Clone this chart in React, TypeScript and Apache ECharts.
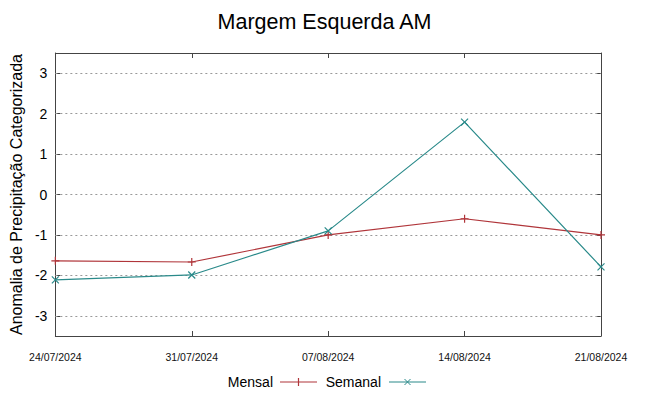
import React, { useEffect, useRef } from "react";
import * as echarts from "echarts";

const categories = ["24/07/2024", "31/07/2024", "07/08/2024", "14/08/2024", "21/08/2024"];
const mensal = [-1.64, -1.67, -1.0, -0.6, -1.0];
const semanal = [-2.11, -1.99, -0.9, 1.79, -1.79];
const yTicks = [-3, -2, -1, 0, 1, 2, 3];

const RED = "#b0353a";
const TEAL = "#2a8a8a";
const FRAME = "#444444";

const PLUS = "path://M0,5L10,5M5,0L5,10";
const CROSS = "path://M0,0L10,10M10,0L0,10";

export default function App() {
  const ref = useRef<HTMLDivElement>(null);
  useEffect(() => {
    if (!ref.current) return;
    const chart = echarts.init(ref.current, null, { renderer: "svg" });
    const font = "Liberation Sans";
    chart.setOption({
      animation: false,
      backgroundColor: "#ffffff",
      title: {
        text: "Margem Esquerda AM",
        left: "center",
        top: 6,
        textStyle: { fontFamily: font, fontSize: 21.5, fontWeight: "normal", color: "#000" },
      },
      grid: { left: 50, right: 48, top: 53, bottom: 60, containLabel: false },
      xAxis: [
        {
          type: "category",
          data: categories,
          boundaryGap: false,
          position: "bottom",
          axisLine: { show: true, onZero: false, lineStyle: { color: FRAME, width: 1 } },
          axisTick: { show: true, inside: true, length: 5, lineStyle: { color: FRAME } },
          axisLabel: { fontFamily: font, fontSize: 10.5, color: "#111", margin: 15, showMinLabel: true, showMaxLabel: true, interval: 0 },
          splitLine: { show: false },
        },
        {
          type: "category",
          data: categories,
          boundaryGap: false,
          position: "top",
          axisLine: { show: true, onZero: false, lineStyle: { color: FRAME, width: 1 } },
          axisTick: { show: true, inside: true, length: 5, lineStyle: { color: FRAME } },
          axisLabel: { show: false },
          splitLine: { show: false },
        },
      ],
      yAxis: [
        {
          type: "value",
          min: -3.5,
          max: 3.5,
          name: "Anomalia de Precipitação Categorizada",
          nameLocation: "middle",
          nameGap: 29,
          nameRotate: 90,
          nameTextStyle: { fontFamily: font, fontSize: 16, color: "#000" },
          axisLine: { show: true, onZero: false, lineStyle: { color: FRAME, width: 1 } },
          axisTick: { show: true, inside: true, length: 5, customValues: yTicks, lineStyle: { color: FRAME } },
          axisLabel: { fontFamily: font, fontSize: 14, color: "#000", margin: 8, customValues: yTicks },
          splitLine: { show: false },
        },
        {
          type: "value",
          min: -3.5,
          max: 3.5,
          position: "right",
          axisLine: { show: true, onZero: false, lineStyle: { color: FRAME, width: 1 } },
          axisTick: { show: true, inside: true, length: 5, customValues: yTicks, lineStyle: { color: FRAME } },
          axisLabel: { show: false, customValues: yTicks },
          splitLine: { show: false },
        },
      ],
      series: [
        {
          name: "Mensal",
          type: "line",
          data: mensal,
          symbol: PLUS,
          symbolSize: 8,
          lineStyle: { color: RED, width: 1.2 },
          itemStyle: { color: "transparent", borderColor: RED, borderWidth: 1.2 },
          z: 3,
          markLine: {
            silent: true,
            symbol: ["none", "none"],
            label: { show: false },
            lineStyle: { color: "#999999", type: [2, 3], width: 1 },
            data: yTicks.map((v) => ({ yAxis: v })),
            z: 1,
          },
        },
        {
          name: "Semanal",
          type: "line",
          data: semanal,
          symbol: CROSS,
          symbolSize: 7,
          lineStyle: { color: TEAL, width: 1.2 },
          itemStyle: { color: "transparent", borderColor: TEAL, borderWidth: 1.2 },
          z: 4,
        },
      ],
      graphic: [
        { type: "text", x: 273, y: 382, style: { text: "Mensal", font: "14px Liberation Sans", fill: "#000", textAlign: "right", textVerticalAlign: "middle" } },
        { type: "line", shape: { x1: 280, y1: 382, x2: 317, y2: 382 }, style: { stroke: RED, lineWidth: 1.2 } },
        { type: "line", shape: { x1: 298.5, y1: 378, x2: 298.5, y2: 386 }, style: { stroke: RED, lineWidth: 1.2 } },
        { type: "text", x: 381, y: 382, style: { text: "Semanal", font: "14px Liberation Sans", fill: "#000", textAlign: "right", textVerticalAlign: "middle" } },
        { type: "line", shape: { x1: 389, y1: 382, x2: 426, y2: 382 }, style: { stroke: TEAL, lineWidth: 1.2 } },
        { type: "line", shape: { x1: 404.5, y1: 379, x2: 410.5, y2: 385 }, style: { stroke: TEAL, lineWidth: 1 } },
        { type: "line", shape: { x1: 410.5, y1: 379, x2: 404.5, y2: 385 }, style: { stroke: TEAL, lineWidth: 1 } },
      ],
    });
    return () => chart.dispose();
  }, []);
  return <div ref={ref} style={{ width: 649, height: 396, position: "absolute", left: 0, top: 0 }} />;
}
